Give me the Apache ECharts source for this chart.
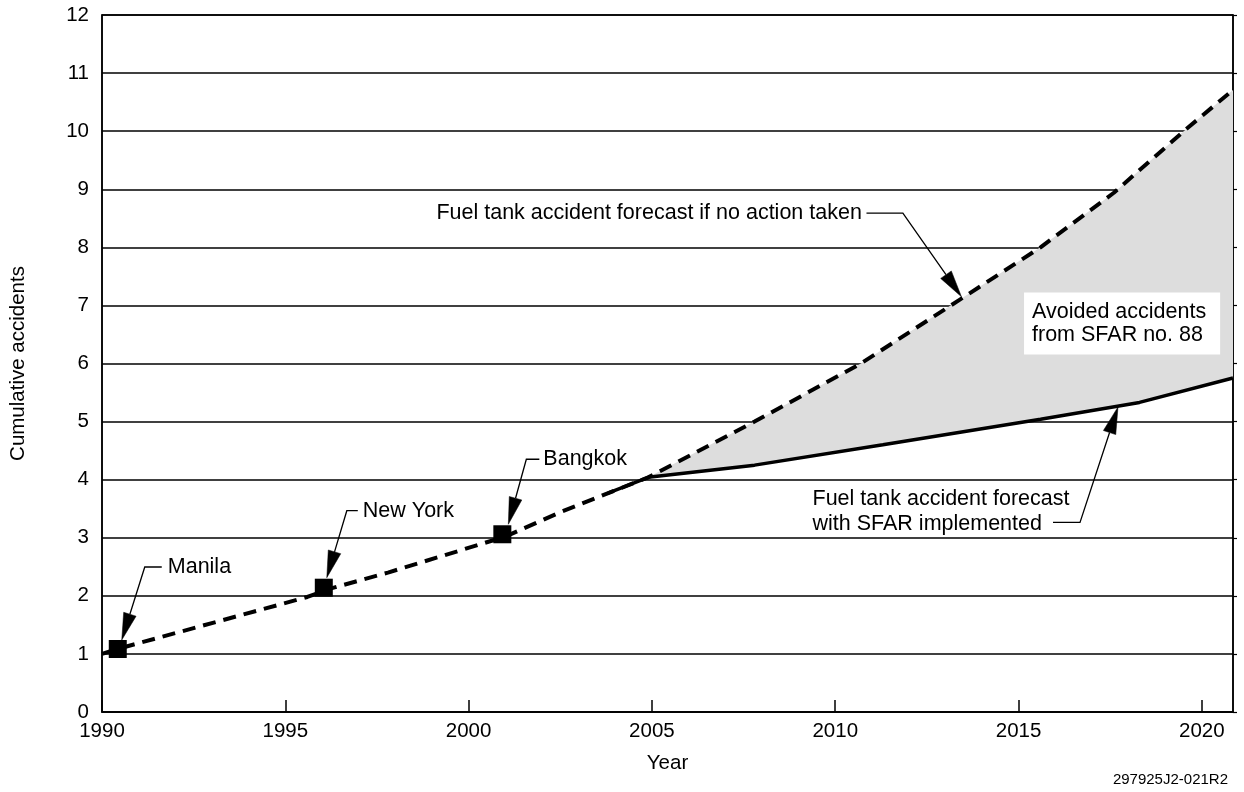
<!DOCTYPE html>
<html>
<head>
<meta charset="utf-8">
<script src="https://cdn.jsdelivr.net/npm/echarts@6/dist/echarts.min.js"></script>
<style>
  html, body { margin: 0; padding: 0; background: #ffffff; }
  #chart { width: 1244px; height: 792px; }
</style>
</head>
<body>
<div id="chart"></div>
<script>
// ---- Data ----
const xTickYears = [1990, 1995, 2000, 2005, 2010, 2015, 2020];
const yTickValues = [0, 1, 2, 3, 4, 5, 6, 7, 8, 9, 10, 11, 12];

const crashNames = ['Manila', 'New York', 'Bangkok'];
const crashYears = [1990.43, 1996.05, 2000.92];
const crashValues = [1.085, 2.14, 3.06];

const noActionYears = [1990, 1990.45, 1995.6, 1996.2, 1997.8, 2001, 2002.5, 2004.9, 2007.8, 2010.7, 2013.4, 2015.6, 2017.6, 2019.6, 2020.85];
const noActionValues = [1.0, 1.09, 1.98, 2.12, 2.4, 3.02, 3.44, 4.04, 5.0, 6.0, 7.1, 8.0, 8.94, 10.05, 10.71];

const sfarYears = [2003.8, 2004.9, 2007.8, 2011.3, 2015.6, 2018.3, 2020.85];
const sfarValues = [3.77, 4.04, 4.25, 4.6, 5.04, 5.33, 5.75];

const divergenceYear = 2004.9;

const noActionLabel = 'Fuel tank accident forecast if no action taken';
const sfarLabel = 'Fuel tank accident forecast\nwith SFAR implemented';
const avoidedLabel = 'Avoided accidents\nfrom SFAR no. 88';
const figureId = '297925J2-021R2';

// ---- Build series data ----
const noActionData = noActionYears.map((y, i) => [y, noActionValues[i]]);
const sfarData = sfarYears.map((y, i) => [y, sfarValues[i]]);
const crashData = crashYears.map((y, i) => ({ name: crashNames[i], value: [y, crashValues[i]] }));

// ---- Layout (pixel offsets of annotation callouts from their anchor point) ----
const FONT = '"Liberation Sans", Arial, Helvetica, sans-serif';
const ANN_FONT = '21.5px ' + FONT;
const annotationLayout = [
  { text: crashNames[0], anchor: crashData[0].value, tip: [4, -9], elbow: [27, -82], end: [44, -82], textAt: [50, -82], align: 'left' },
  { text: crashNames[1], anchor: crashData[1].value, tip: [3, -10], elbow: [23, -77], end: [34, -77], textAt: [39, -77], align: 'left' },
  { text: crashNames[2], anchor: crashData[2].value, tip: [6, -10], elbow: [24, -75], end: [37, -75], textAt: [41, -75], align: 'left' },
  { text: noActionLabel, anchor: noActionData[10], tip: [1.6, -2.8], elbow: [-57, -86.5], end: [-93.4, -86.5], textAt: [-98, -86.5], align: 'right' },
  { text: sfarLabel, anchor: sfarData[5], tip: [-21.5, 4.5], elbow: [-59.5, 120], end: [-86.5, 120], textAt: [-327, 109], align: 'left', lineHeight: 25 }
];
const avoidedLabelAt = [2015.15, 6.69];

const chart = echarts.init(document.getElementById('chart'), null, { renderer: 'canvas' });

function arrowGroup(a, api) {
  const p = api.coord(a.anchor);
  const tip = [p[0] + a.tip[0], p[1] + a.tip[1]];
  const elbow = [p[0] + a.elbow[0], p[1] + a.elbow[1]];
  const end = [p[0] + a.end[0], p[1] + a.end[1]];
  const dx = tip[0] - elbow[0], dy = tip[1] - elbow[1];
  const len = Math.sqrt(dx * dx + dy * dy);
  const ux = dx / len, uy = dy / len;
  const L = 27, W = 6.5;
  const bx = tip[0] - ux * L, by = tip[1] - uy * L;
  const nx = -uy, ny = ux;
  return [
    { type: 'polyline', shape: { points: [end, elbow, [bx, by]] }, style: { stroke: '#000', lineWidth: 1.3, fill: null } },
    { type: 'polygon', shape: { points: [tip, [bx + nx * W, by + ny * W], [bx - nx * W, by - ny * W]] }, style: { fill: '#000', stroke: '#000', lineWidth: 0.5 } },
    { type: 'text', style: { text: a.text, x: p[0] + a.textAt[0], y: p[1] + a.textAt[1], align: a.align, verticalAlign: 'middle', font: ANN_FONT, fill: '#000', lineHeight: a.lineHeight || 24 } }
  ];
}

const option = {
  backgroundColor: '#ffffff',
  animation: false,
  grid: { left: 102, right: 11, top: 15, bottom: 80, show: true, borderColor: '#000', borderWidth: 1.5, backgroundColor: '#fff' },
  xAxis: {
    type: 'value',
    min: xTickYears[0],
    max: 2020.85,
    interval: 5,
    name: 'Year',
    nameLocation: 'middle',
    nameGap: 41,
    nameTextStyle: { fontFamily: FONT, fontSize: 20.5, color: '#000' },
    axisLine: { show: true, lineStyle: { color: '#000', width: 1.5 } },
    axisTick: { show: true, inside: true, length: 12, lineStyle: { color: '#000', width: 1.5 } },
    axisLabel: { showMaxLabel: false, margin: 9, fontFamily: FONT, fontSize: 20.5, color: '#000',
      formatter: v => (xTickYears.indexOf(v) >= 0 ? String(v) : '') },
    splitLine: { show: false }
  },
  yAxis: [{
    type: 'value',
    min: yTickValues[0],
    max: yTickValues[yTickValues.length - 1],
    interval: 1,
    name: 'Cumulative accidents',
    nameLocation: 'middle',
    nameRotate: 90,
    nameGap: 73,
    nameTextStyle: { fontFamily: FONT, fontSize: 20.5, color: '#000' },
    axisLine: { show: true, lineStyle: { color: '#000', width: 1.5 } },
    axisTick: { show: false },
    axisLabel: { margin: 13, fontFamily: FONT, fontSize: 20.5, color: '#000' },
    splitLine: { show: true, lineStyle: { color: '#000', width: 1.5 } }
  }, {
    type: 'value',
    position: 'right',
    min: yTickValues[0],
    max: yTickValues[yTickValues.length - 1],
    interval: 1,
    axisLine: { show: true, lineStyle: { color: '#000', width: 1.5 } },
    axisTick: { show: true, inside: false, length: 4, lineStyle: { color: '#000', width: 1.2 } },
    axisLabel: { show: false },
    splitLine: { show: false }
  }],
  series: [
    {
      type: 'custom',
      name: 'Avoided accidents',
      silent: true,
      z: 1,
      clip: true,
      data: [[divergenceYear, 0]],
      renderItem: function (params, api) {
        const upper = noActionData.filter(d => d[0] >= divergenceYear).map(d => api.coord(d));
        const lower = sfarData.filter(d => d[0] >= divergenceYear).map(d => api.coord(d)).reverse();
        return { type: 'polygon', shape: { points: upper.concat(lower) }, style: { fill: '#dddddd', stroke: null } };
      }
    },
    {
      type: 'line',
      name: 'No action',
      data: noActionData,
      showSymbol: false,
      symbol: 'none',
      z: 3,
      lineStyle: { color: '#000', width: 4, type: [13, 8], cap: 'butt' }
    },
    {
      type: 'line',
      name: 'SFAR implemented',
      data: sfarData,
      showSymbol: false,
      symbol: 'none',
      z: 2,
      lineStyle: { color: '#000', width: 3.5 }
    },
    {
      type: 'scatter',
      name: 'Accidents',
      data: crashData,
      symbol: 'rect',
      symbolSize: 18,
      z: 4,
      itemStyle: { color: '#000', opacity: 1 }
    },
    {
      type: 'custom',
      name: 'annotations',
      silent: true,
      clip: false,
      z: 5,
      data: annotationLayout.map((a, i) => [a.anchor[0], a.anchor[1], i]),
      renderItem: function (params, api) {
        const a = annotationLayout[params.dataIndex];
        return { type: 'group', children: arrowGroup(a, api) };
      }
    },
    {
      type: 'custom',
      name: 'avoided label',
      silent: true,
      clip: false,
      z: 5,
      data: [avoidedLabelAt],
      renderItem: function (params, api) {
        const p = api.coord(avoidedLabelAt);
        return {
          type: 'text',
          style: {
            text: avoidedLabel, x: p[0], y: p[1], align: 'left', verticalAlign: 'middle',
            font: ANN_FONT, fill: '#000', lineHeight: 23,
            backgroundColor: '#fff', padding: [8, 14, 8, 8]
          }
        };
      }
    }
  ],
  graphic: [{
    type: 'text',
    right: 16,
    bottom: 5,
    style: { text: figureId, font: '15px ' + FONT, fill: '#000' }
  }]
};

chart.setOption(option);
</script>
</body>
</html>
